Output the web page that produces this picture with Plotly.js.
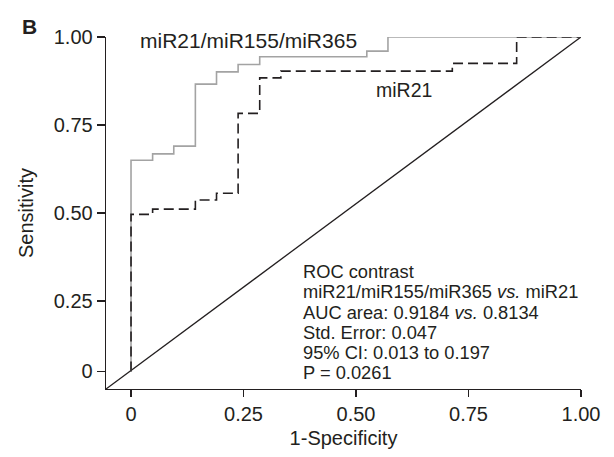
<!DOCTYPE html>
<html>
<head>
<meta charset="utf-8">
<script src="https://cdn.plot.ly/plotly-3.0.1.min.js"></script>
<style>html,body{margin:0;padding:0;background:#fff;}#chart{width:614px;height:457px;}</style>
</head>
<body>
<div id="chart"></div>
<script>
// Combined panel miR21/miR155/miR365 ROC (1-Specificity, Sensitivity)
const comboX = [0, 0, 0.048, 0.095, 0.143, 0.190, 0.238, 0.286, 0.524, 0.571, 1.0];
const comboY = [0.05, 0.65, 0.668, 0.690, 0.866, 0.901, 0.922, 0.944, 0.960, 1.0, 1.0];
// miR21 alone ROC
const mir21X = [0, 0, 0.048, 0.143, 0.190, 0.238, 0.286, 0.333, 0.714, 0.857, 1.0];
const mir21Y = [0.05, 0.496, 0.511, 0.537, 0.556, 0.783, 0.884, 0.903, 0.925, 1.0, 1.0];
// reference diagonal
const diagX = [-0.0556, 1.0];
const diagY = [0, 1.0];
// tick labels
const xTickVals = [0, 0.25, 0.5, 0.75, 1.0];
const xTickText = ['0', '0.25', '0.50', '0.75', '1.00'];
const yTickVals = [0.05, 0.25, 0.5, 0.75, 1.0];
const yTickText = ['0', '0.25', '0.50', '0.75', '1.00'];
const statLines = [
  'ROC contrast',
  'miR21/miR155/miR365 <i>vs.</i> miR21',
  'AUC area: 0.9184 <i>vs.</i> 0.8134',
  'Std. Error: 0.047',
  '95% CI: 0.013 to 0.197',
  'P = 0.0261'
];

const ink = '#231f20';
const fontFam = 'Liberation Sans, Arial, sans-serif';

const traces = [
  {x: diagX, y: diagY, mode: 'lines', line: {color: ink, width: 1.3}, hoverinfo: 'skip', cliponaxis: false},
  {x: comboX, y: comboY, mode: 'lines', line: {color: '#a3a3a3', width: 1.6, shape: 'hv'}, cliponaxis: false},
  {x: mir21X, y: mir21Y, mode: 'lines', line: {color: ink, width: 1.6, shape: 'hv', dash: '10px,5px'}, cliponaxis: false}
];

// stat block: one annotation per line, ~20px line pitch (plot height 352px)
const statTop = 0.333, statStep = 20.2 / 352;
const statAnns = statLines.map((t, i) => ({
  text: t, xref: 'x', yref: 'y', x: 0.377, y: statTop - i * statStep,
  xanchor: 'left', yanchor: 'middle', align: 'left', showarrow: false,
  font: {size: 18.3, color: ink, family: fontFam}
}));

const layout = {
  width: 614, height: 457,
  margin: {l: 106, r: 33, t: 37, b: 68},
  paper_bgcolor: '#fff', plot_bgcolor: '#fff',
  showlegend: false,
  font: {family: fontFam, color: ink, size: 20},
  xaxis: {
    range: [-0.0556, 1.0], showgrid: false, zeroline: false,
    showline: true, linecolor: ink, linewidth: 1.3,
    ticks: 'outside', ticklen: 7, tickwidth: 1.3, tickcolor: ink,
    tickvals: xTickVals, ticktext: xTickText,
    tickfont: {size: 20, color: ink, family: fontFam},
    title: {text: '1-Specificity', font: {size: 20, color: ink, family: fontFam}, standoff: 6}
  },
  yaxis: {
    range: [0, 1.0], showgrid: false, zeroline: false,
    showline: true, linecolor: ink, linewidth: 1.3,
    ticks: 'outside', ticklen: 8, tickwidth: 1.3, tickcolor: ink,
    tickvals: yTickVals, ticktext: yTickText,
    tickfont: {size: 20, color: ink, family: fontFam},
    title: {text: 'Sensitivity', font: {size: 20, color: ink, family: fontFam}, standoff: 14}
  },
  annotations: [
    {text: '<b>B</b>', xref: 'paper', yref: 'paper', x: -0.162, y: 1.03, xanchor: 'center', yanchor: 'middle', showarrow: false, font: {size: 21, color: ink, family: fontFam}},
    {text: 'miR21/miR155/miR365', xref: 'x', yref: 'y', x: 0.262, y: 0.99, xanchor: 'center', yanchor: 'middle', showarrow: false, font: {size: 21, color: ink, family: fontFam}},
    {text: 'miR21', xref: 'x', yref: 'y', x: 0.607, y: 0.85, xanchor: 'center', yanchor: 'middle', showarrow: false, font: {size: 19.5, color: ink, family: fontFam}}
  ].concat(statAnns)
};

Plotly.newPlot('chart', traces, layout, {staticPlot: true, displayModeBar: false});
</script>
</body>
</html>
